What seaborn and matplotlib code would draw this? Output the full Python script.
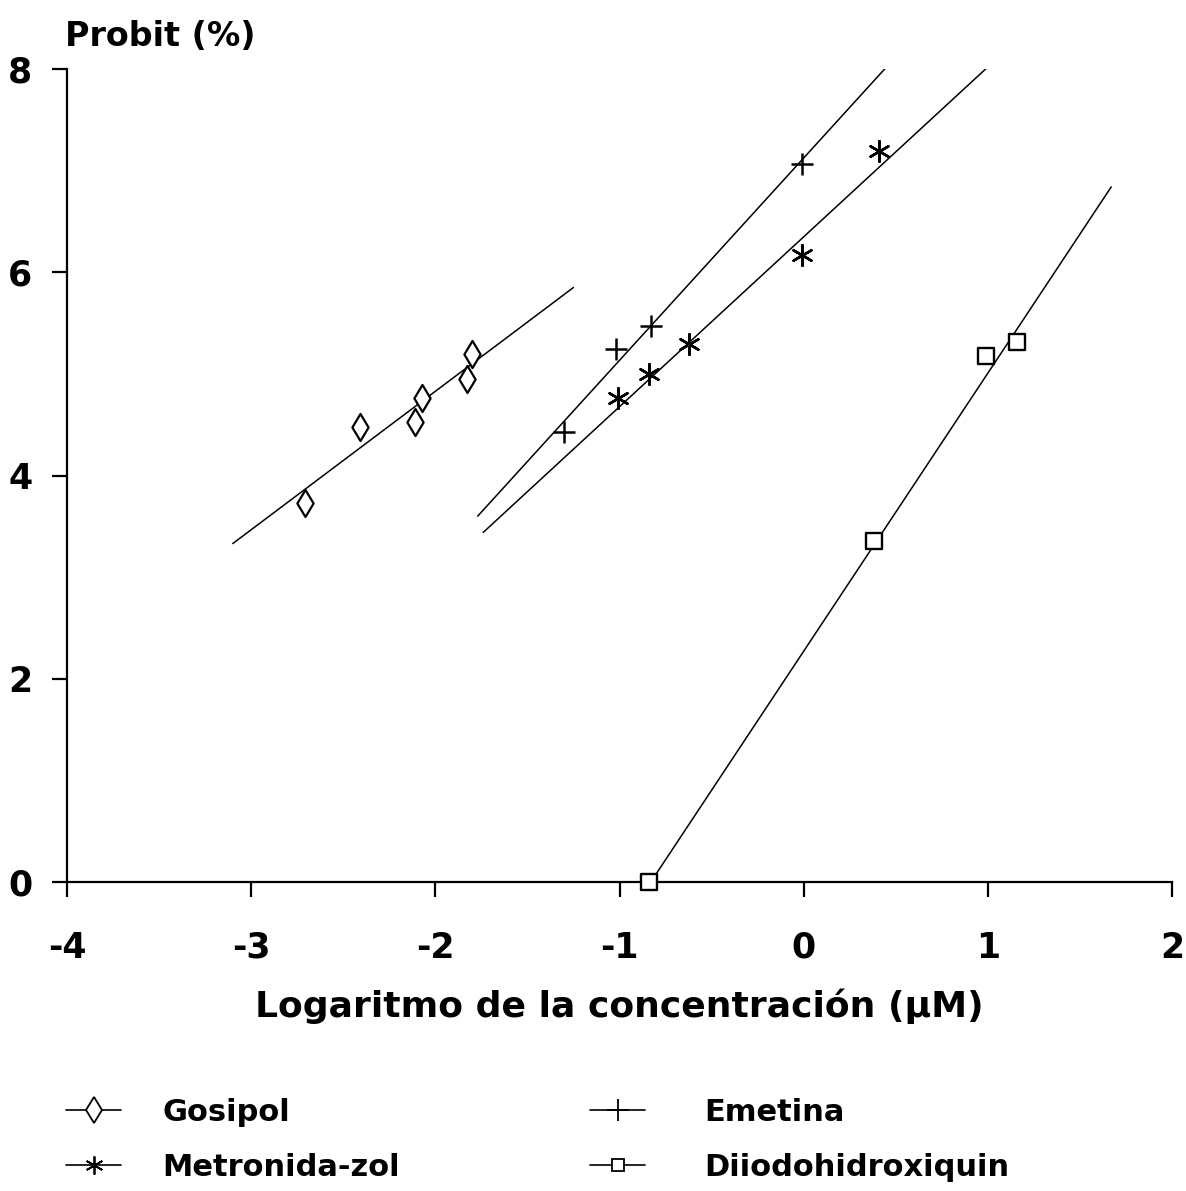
import matplotlib
matplotlib.use("Agg")
import matplotlib.pyplot as plt
from matplotlib.lines import Line2D
import seaborn as sns

# Probit values against log10 concentration for four drugs
gosipol_x = [-2.71, -2.41, -2.11, -2.07, -1.83, -1.80]
gosipol_y = [3.73, 4.48, 4.53, 4.76, 4.95, 5.20]
gosipol_fit_x = [-3.10, -1.25]
gosipol_fit_y = [3.33, 5.85]

emetina_x = [-1.30, -1.02, -0.83, -0.01]
emetina_y = [4.43, 5.24, 5.47, 7.07]
emetina_fit_x = [-1.77, 0.47]
emetina_fit_y = [3.60, 8.06]

metronidazol_x = [-1.01, -0.84, -0.625, -0.01, 0.41]
metronidazol_y = [4.76, 5.00, 5.29, 6.17, 7.19]
metronidazol_fit_x = [-1.74, 1.00]
metronidazol_fit_y = [3.44, 8.02]

diiodo_x = [-0.84, 0.38, 0.99, 1.16]
diiodo_y = [0.00, 3.36, 5.18, 5.31]
diiodo_fit_x = [-0.83, 1.67]
diiodo_fit_y = [0.00, 6.84]

series_labels = ["Gosipol", "Metronida-zol", "Emetina", "Diiodohidroxiquin"]
x_ticks = [-4, -3, -2, -1, 0, 1, 2]
y_ticks = [0, 2, 4, 6, 8]

sns.set_theme(style="ticks")
plt.rcParams["font.family"] = ["DejaVu Sans"]
plt.rcParams["font.weight"] = "bold"
plt.rcParams["axes.unicode_minus"] = False
for key in ["text.color", "axes.labelcolor", "xtick.color", "ytick.color",
            "axes.edgecolor"]:
    plt.rcParams[key] = "black"

W, H = 1186, 1191
fig = plt.figure(figsize=(W / 100, H / 100), dpi=100)
fig.patch.set_facecolor("white")
ax = fig.add_axes([67 / W, 1 - 882 / H, (1172 - 67) / W, (882 - 69) / H])
ax.set_facecolor("white")

line_kw = dict(color="black", linewidth=1.1, legend=False, ax=ax, sort=False)
for fx, fy in [(gosipol_fit_x, gosipol_fit_y), (emetina_fit_x, emetina_fit_y),
               (metronidazol_fit_x, metronidazol_fit_y), (diiodo_fit_x, diiodo_fit_y)]:
    sns.lineplot(x=fx, y=fy, **line_kw)

asterisk = (6, 2, 0)

sns.scatterplot(x=gosipol_x, y=gosipol_y, marker="d", s=190, facecolor="white",
                edgecolor="black", linewidth=1.6, ax=ax, zorder=3, clip_on=False)
sns.scatterplot(x=emetina_x, y=emetina_y, marker="+", s=260, color="black",
                linewidth=1.8, ax=ax, zorder=3, clip_on=False)
sns.scatterplot(x=metronidazol_x, y=metronidazol_y, marker=asterisk, s=220, color="black",
                linewidth=1.8, ax=ax, zorder=3, clip_on=False)
sns.scatterplot(x=diiodo_x, y=diiodo_y, marker="s", s=135, facecolor="white",
                edgecolor="black", linewidth=1.7, ax=ax, zorder=3, clip_on=False)

ax.set_xlim(-4, 2)
ax.set_ylim(0, 8)
ax.set_xticks(x_ticks)
ax.set_yticks(y_ticks)
ax.set_xticklabels([str(t) for t in x_ticks])
ax.set_yticklabels([str(t) for t in y_ticks])
ax.set_xlabel("")
ax.set_ylabel("")
for side in ["top", "right"]:
    ax.spines[side].set_visible(False)
for side in ["left", "bottom"]:
    ax.spines[side].set_linewidth(1.6)
    ax.spines[side].set_color("black")
ax.tick_params(axis="x", direction="out", length=11, width=1.6, pad=24,
               labelsize=25, colors="black")
ax.tick_params(axis="y", direction="out", length=11, width=1.6, pad=14,
               labelsize=25, colors="black")
for lab in ax.get_xticklabels() + ax.get_yticklabels():
    lab.set_fontweight("bold")

fig.text(65 / W, 1 - 36 / H, "Probit (%)", ha="left", va="center",
         fontsize=24, fontweight="bold")
fig.text(619 / W, 1 - 1006 / H, "Logaritmo de la concentración (µM)",
         ha="center", va="center", fontsize=26, fontweight="bold")

def handle(marker, ms, filled_white=False):
    return Line2D([0], [0], color="black", linewidth=1.2, marker=marker,
                  markersize=ms, markeredgewidth=1.3,
                  markerfacecolor="white" if filled_white else "black",
                  markeredgecolor="black")

col1 = [handle("d", 13, True), handle(asterisk, 13)]
col2 = [handle("+", 16), handle("s", 9, True)]

fs = 22
leg_kw = dict(loc="upper left", frameon=False, handlelength=1.8,
              labelspacing=0.85, borderpad=0, borderaxespad=0,
              prop={"weight": "bold", "size": fs})
leg1 = fig.legend(col1, series_labels[:2], bbox_to_anchor=(66 / W, 1 - 1098 / H),
                  handletextpad=1.35, **leg_kw)
leg2 = fig.legend(col2, series_labels[2:], bbox_to_anchor=(590 / W, 1 - 1098 / H),
                  handletextpad=1.95, **leg_kw)

fig.savefig("out.png", dpi=100, facecolor="white")
